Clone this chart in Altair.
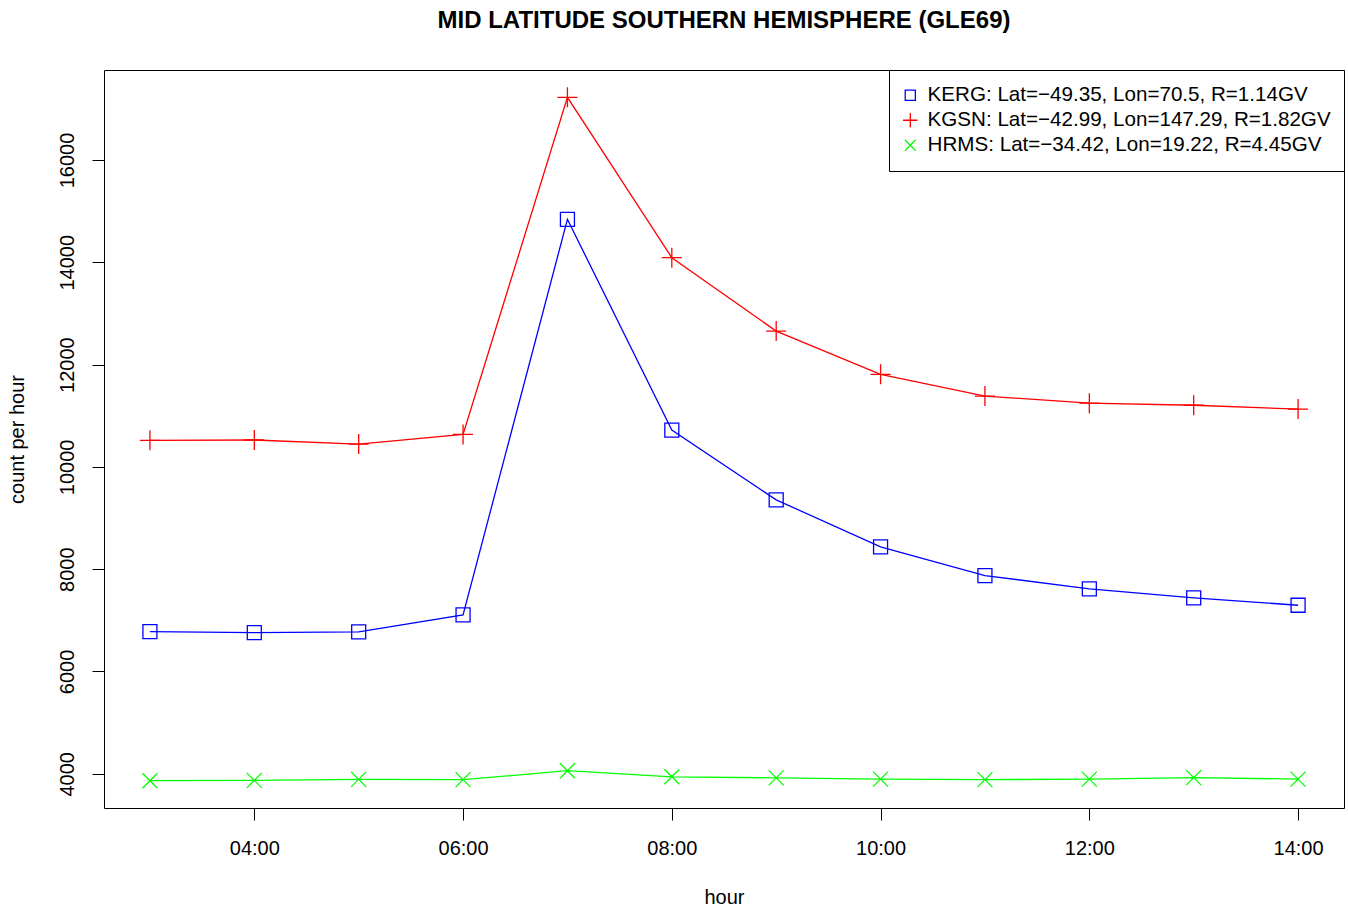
import altair as alt
import pandas as pd

# Hourly neutron monitor counts, 03:00 .. 14:00 UT
hours = [3, 4, 5, 6, 7, 8, 9, 10, 11, 12, 13, 14]
kerg = [6780, 6760, 6775, 7105, 14840, 10720, 9355, 8435, 7875, 7615, 7440, 7295]
kgsn = [10520, 10525, 10445, 10635, 17225, 14090, 12655, 11810, 11385, 11245, 11205, 11130]
hrms = [3865, 3870, 3890, 3885, 4060, 3940, 3920, 3895, 3885, 3895, 3925, 3895]

stations = ["KERG", "KGSN", "HRMS"]
lats = ["\u221249.35", "\u221242.99", "\u221234.42"]
lons = ["70.5", "147.29", "19.22"]
cutoffs = ["1.14", "1.82", "4.45"]
colors = ["#0000FF", "#FF0000", "#00FF00"]
# open square, plus, cross (R pch 0, 3, 4)
shapes = [
    "M-0.7,-0.7H0.7V0.7H-0.7Z",
    "M-1,0H1M0,-1V1",
    "M-0.75,-0.75L0.75,0.75M-0.75,0.75L0.75,-0.75",
]
y_ticks = [4000, 6000, 8000, 10000, 12000, 14000, 16000]
x_ticks = [4, 6, 8, 10, 12, 14]

labels = [f"{s}: Lat={la}, Lon={lo}, R={r}GV"
          for s, la, lo, r in zip(stations, lats, lons, cutoffs)]

rows = []
for label, series in zip(labels, [kerg, kgsn, hrms]):
    for h, v in zip(hours, series):
        rows.append({"hour": h, "count": v, "series": label})
df = pd.DataFrame(rows)

# R-style 4% axis extension
all_vals = kerg + kgsn + hrms
ylo, yhi = min(all_vals), max(all_vals)
ypad = 0.04 * (yhi - ylo)
xpad = 0.04 * (max(hours) - min(hours))

FONT = "Liberation Sans"

x_enc = alt.X(
    "hour:Q",
    scale=alt.Scale(domain=[min(hours) - xpad, max(hours) + xpad], nice=False, zero=False),
    axis=alt.Axis(
        values=x_ticks,
        labelExpr="(datum.value < 10 ? '0' : '') + datum.value + ':00'",
        title="hour",
        grid=False,
        domain=False,
        ticks=True,
        tickSize=12,
        tickColor="black",
        tickWidth=1,
        labelFontSize=20,
        labelFont=FONT,
        labelColor="black",
        labelBaseline="alphabetic",
        labelPadding=34,
        labelFlush=False,
        labelOverlap=False,
        titleFontSize=20,
        titleFont=FONT,
        titleFontWeight="normal",
        titleColor="black",
        titleBaseline="alphabetic",
        titleX=620,
        titleY=95,
    ),
)
y_enc = alt.Y(
    "count:Q",
    scale=alt.Scale(domain=[ylo - ypad, yhi + ypad], nice=False, zero=False),
    axis=alt.Axis(
        values=y_ticks,
        format="d",
        title="count per hour",
        grid=False,
        domain=False,
        tickSize=12,
        tickColor="black",
        tickWidth=1,
        labelAngle=270,
        labelAlign="center",
        labelBaseline="alphabetic",
        labelPadding=19,
        labelFontSize=20,
        labelFont=FONT,
        labelColor="black",
        labelOverlap=False,
        titleFontSize=20,
        titleFont=FONT,
        titleFontWeight="normal",
        titleColor="black",
        titleAngle=270,
        titleAlign="center",
        titleBaseline="alphabetic",
        titleX=-81,
        titleY=369,
    ),
)

color_scale = alt.Scale(domain=labels, range=colors)
shape_scale = alt.Scale(domain=labels, range=shapes)

legend = alt.Legend(
    title=None,
    orient="top-right",
    offset=0,
    strokeColor="black",
    fillColor="white",
    padding=13,
    clipHeight=24.5,
    rowPadding=0,
    labelFontSize=20.6,
    labelFont=FONT,
    labelColor="black",
    labelLimit=1000,
    labelOffset=7,
    symbolOffset=-2,
    symbolSize=210,
    symbolStrokeWidth=1.3,
)

lines = alt.Chart(df).mark_line(strokeWidth=1.3).encode(
    x=x_enc,
    y=y_enc,
    color=alt.Color("series:N", scale=color_scale, legend=None),
)

points = alt.Chart(df).mark_point(filled=False, size=400, strokeWidth=1.3, opacity=1).encode(
    x=x_enc,
    y=y_enc,
    color=alt.Color("series:N", scale=color_scale, legend=legend),
    shape=alt.Shape("series:N", scale=shape_scale, legend=legend),
)

chart = (
    alt.layer(lines, points)
    .resolve_legend(color="independent", shape="independent")
    .properties(
        width=1240,
        height=738,
        background="white",
        autosize=alt.AutoSizeParams(type="none"),
        padding={"left": 104, "top": 70, "right": 4, "bottom": 100},
        title=alt.TitleParams(
            "MID LATITUDE SOUTHERN HEMISPHERE (GLE69)",
            fontSize=24,
            fontWeight="bold",
            font=FONT,
            color="black",
            anchor="middle",
            frame="group",
            baseline="alphabetic",
            offset=18,
        ),
    )
    .configure_view(stroke="black", strokeWidth=1)
)

chart.save("out.html", embed_options={"renderer": "svg", "actions": False})
